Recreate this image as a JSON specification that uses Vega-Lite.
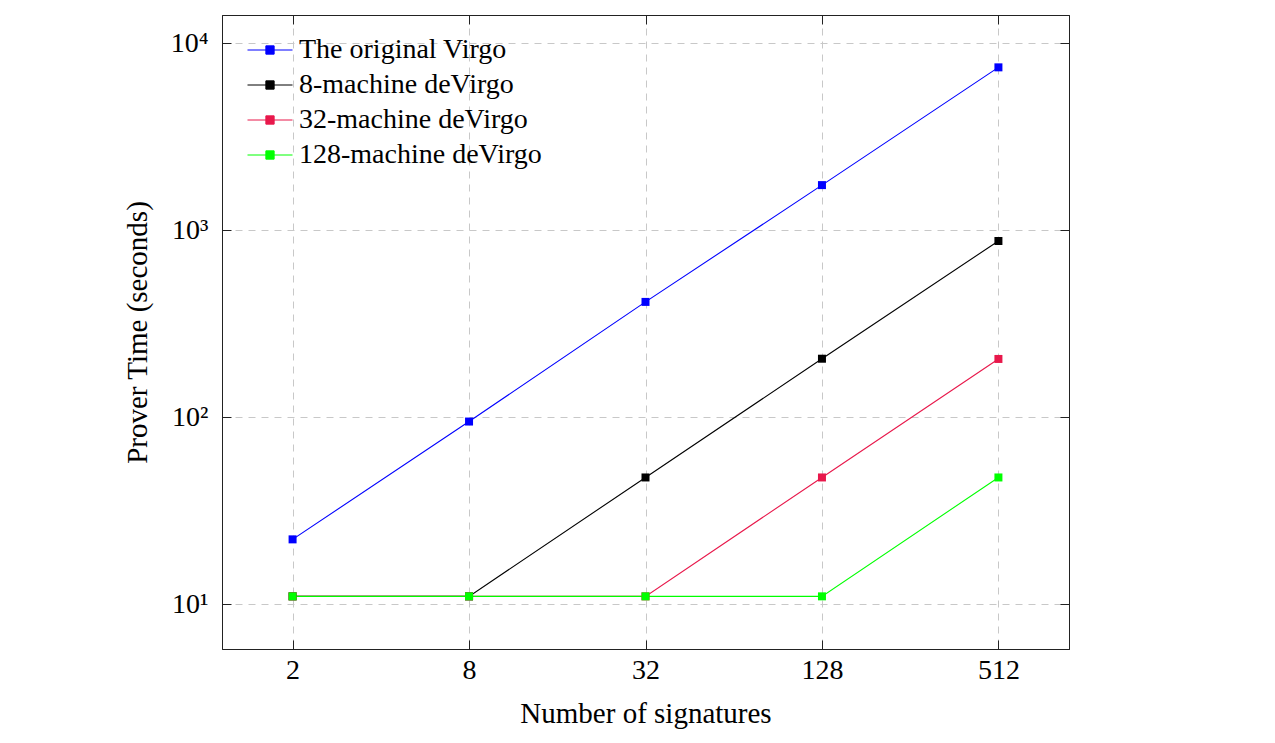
{
  "$schema": "https://vega.github.io/schema/vega-lite/v6.json",
  "width": 847,
  "height": 634,
  "autosize": {"type": "none"},
  "padding": {"left": 222, "top": 15, "right": 206, "bottom": 94},
  "background": "white",
  "config": {
    "view": {"stroke": "#222", "strokeWidth": 1},
    "font": "Liberation Serif",
    "axis": {
      "labelFont": "Liberation Serif",
      "labelFontSize": 28,
      "labelColor": "black",
      "titleFont": "Liberation Serif",
      "titleFontSize": 29,
      "titleFontWeight": "normal",
      "titleColor": "black",
      "domainColor": "#222",
      "tickColor": "#222",
      "gridColor": "#c8c8c8",
      "gridDash": [7, 6],
      "gridWidth": 1
    }
  },
  "data": {
    "values": [
      {"series": "The original Virgo", "n": 2, "t": 22.2},
      {"series": "The original Virgo", "n": 8, "t": 94.8},
      {"series": "The original Virgo", "n": 32, "t": 414},
      {"series": "The original Virgo", "n": 128, "t": 1746},
      {"series": "The original Virgo", "n": 512, "t": 7450},
      {"series": "8-machine deVirgo", "n": 2, "t": 11},
      {"series": "8-machine deVirgo", "n": 8, "t": 11},
      {"series": "8-machine deVirgo", "n": 32, "t": 47.6},
      {"series": "8-machine deVirgo", "n": 128, "t": 205.6},
      {"series": "8-machine deVirgo", "n": 512, "t": 877},
      {"series": "32-machine deVirgo", "n": 2, "t": 11},
      {"series": "32-machine deVirgo", "n": 8, "t": 11},
      {"series": "32-machine deVirgo", "n": 32, "t": 11},
      {"series": "32-machine deVirgo", "n": 128, "t": 47.6},
      {"series": "32-machine deVirgo", "n": 512, "t": 205},
      {"series": "128-machine deVirgo", "n": 2, "t": 11},
      {"series": "128-machine deVirgo", "n": 8, "t": 11},
      {"series": "128-machine deVirgo", "n": 32, "t": 11},
      {"series": "128-machine deVirgo", "n": 128, "t": 11},
      {"series": "128-machine deVirgo", "n": 512, "t": 47.6}
    ]
  },
  "layer": [
    {
      "mark": {"type": "line", "strokeWidth": 1.1},
      "encoding": {
        "x": {
          "field": "n", "type": "quantitative",
          "scale": {"type": "log", "base": 2, "domain": [1.1487, 891.4], "nice": false},
          "axis": {
            "orient": "bottom", "values": [2, 8, 32, 128, 512], "format": "d",
            "title": "Number of signatures", "grid": true,
            "tickSize": -9, "labelPadding": 16, "titlePadding": 15
          }
        },
        "y": {
          "field": "t", "type": "quantitative",
          "scale": {"type": "log", "domain": [5.75, 14200], "nice": false},
          "axis": {
            "orient": "left", "values": [10, 100, 1000, 10000],
            "labelExpr": "datum.value == 10 ? '10¹' : datum.value == 100 ? '10²' : datum.value == 1000 ? '10³' : '10⁴'",
            "title": "Prover Time (seconds)", "grid": true,
            "tickSize": -9, "labelPadding": 23, "titlePadding": 18
          }
        },
        "color": {
          "field": "series", "type": "nominal",
          "scale": {
            "domain": ["The original Virgo", "8-machine deVirgo", "32-machine deVirgo", "128-machine deVirgo"],
            "range": ["#0000ff", "#000000", "#e8184b", "#00ff00"]
          },
          "legend": {
            "orient": "none", "legendX": 34, "legendY": 21, "title": null, "padding": 0,
            "symbolType": "M-2.5,0H2.5M-0.46,-0.46H0.46V0.46H-0.46Z",
            "symbolSize": 324, "symbolStrokeWidth": 1,
            "labelFont": "Liberation Serif", "labelFontSize": 28, "labelColor": "black",
            "labelOffset": 15, "rowPadding": 7, "labelLimit": 0,
            "encode": {
              "symbols": {
                "update": {
                  "fill": {"scale": "color", "field": "value"},
                  "stroke": {"scale": "color", "field": "value"},
                  "strokeWidth": {"value": 1},
                  "opacity": {"value": 1}
                }
              }
            }
          }
        }
      }
    },
    {
      "mark": {"type": "point", "shape": "square", "filled": true, "size": 64, "opacity": 1},
      "encoding": {
        "x": {
          "field": "n", "type": "quantitative",
          "axis": {"orient": "top", "values": [2, 8, 32, 128, 512], "labels": false, "title": null, "grid": false, "tickSize": -9}
        },
        "y": {
          "field": "t", "type": "quantitative",
          "axis": {"orient": "right", "values": [10, 100, 1000, 10000], "labels": false, "title": null, "grid": false, "tickSize": -9}
        },
        "color": {"field": "series", "type": "nominal", "legend": null}
      }
    }
  ],
  "resolve": {"axis": {"x": "independent", "y": "independent"}}
}
